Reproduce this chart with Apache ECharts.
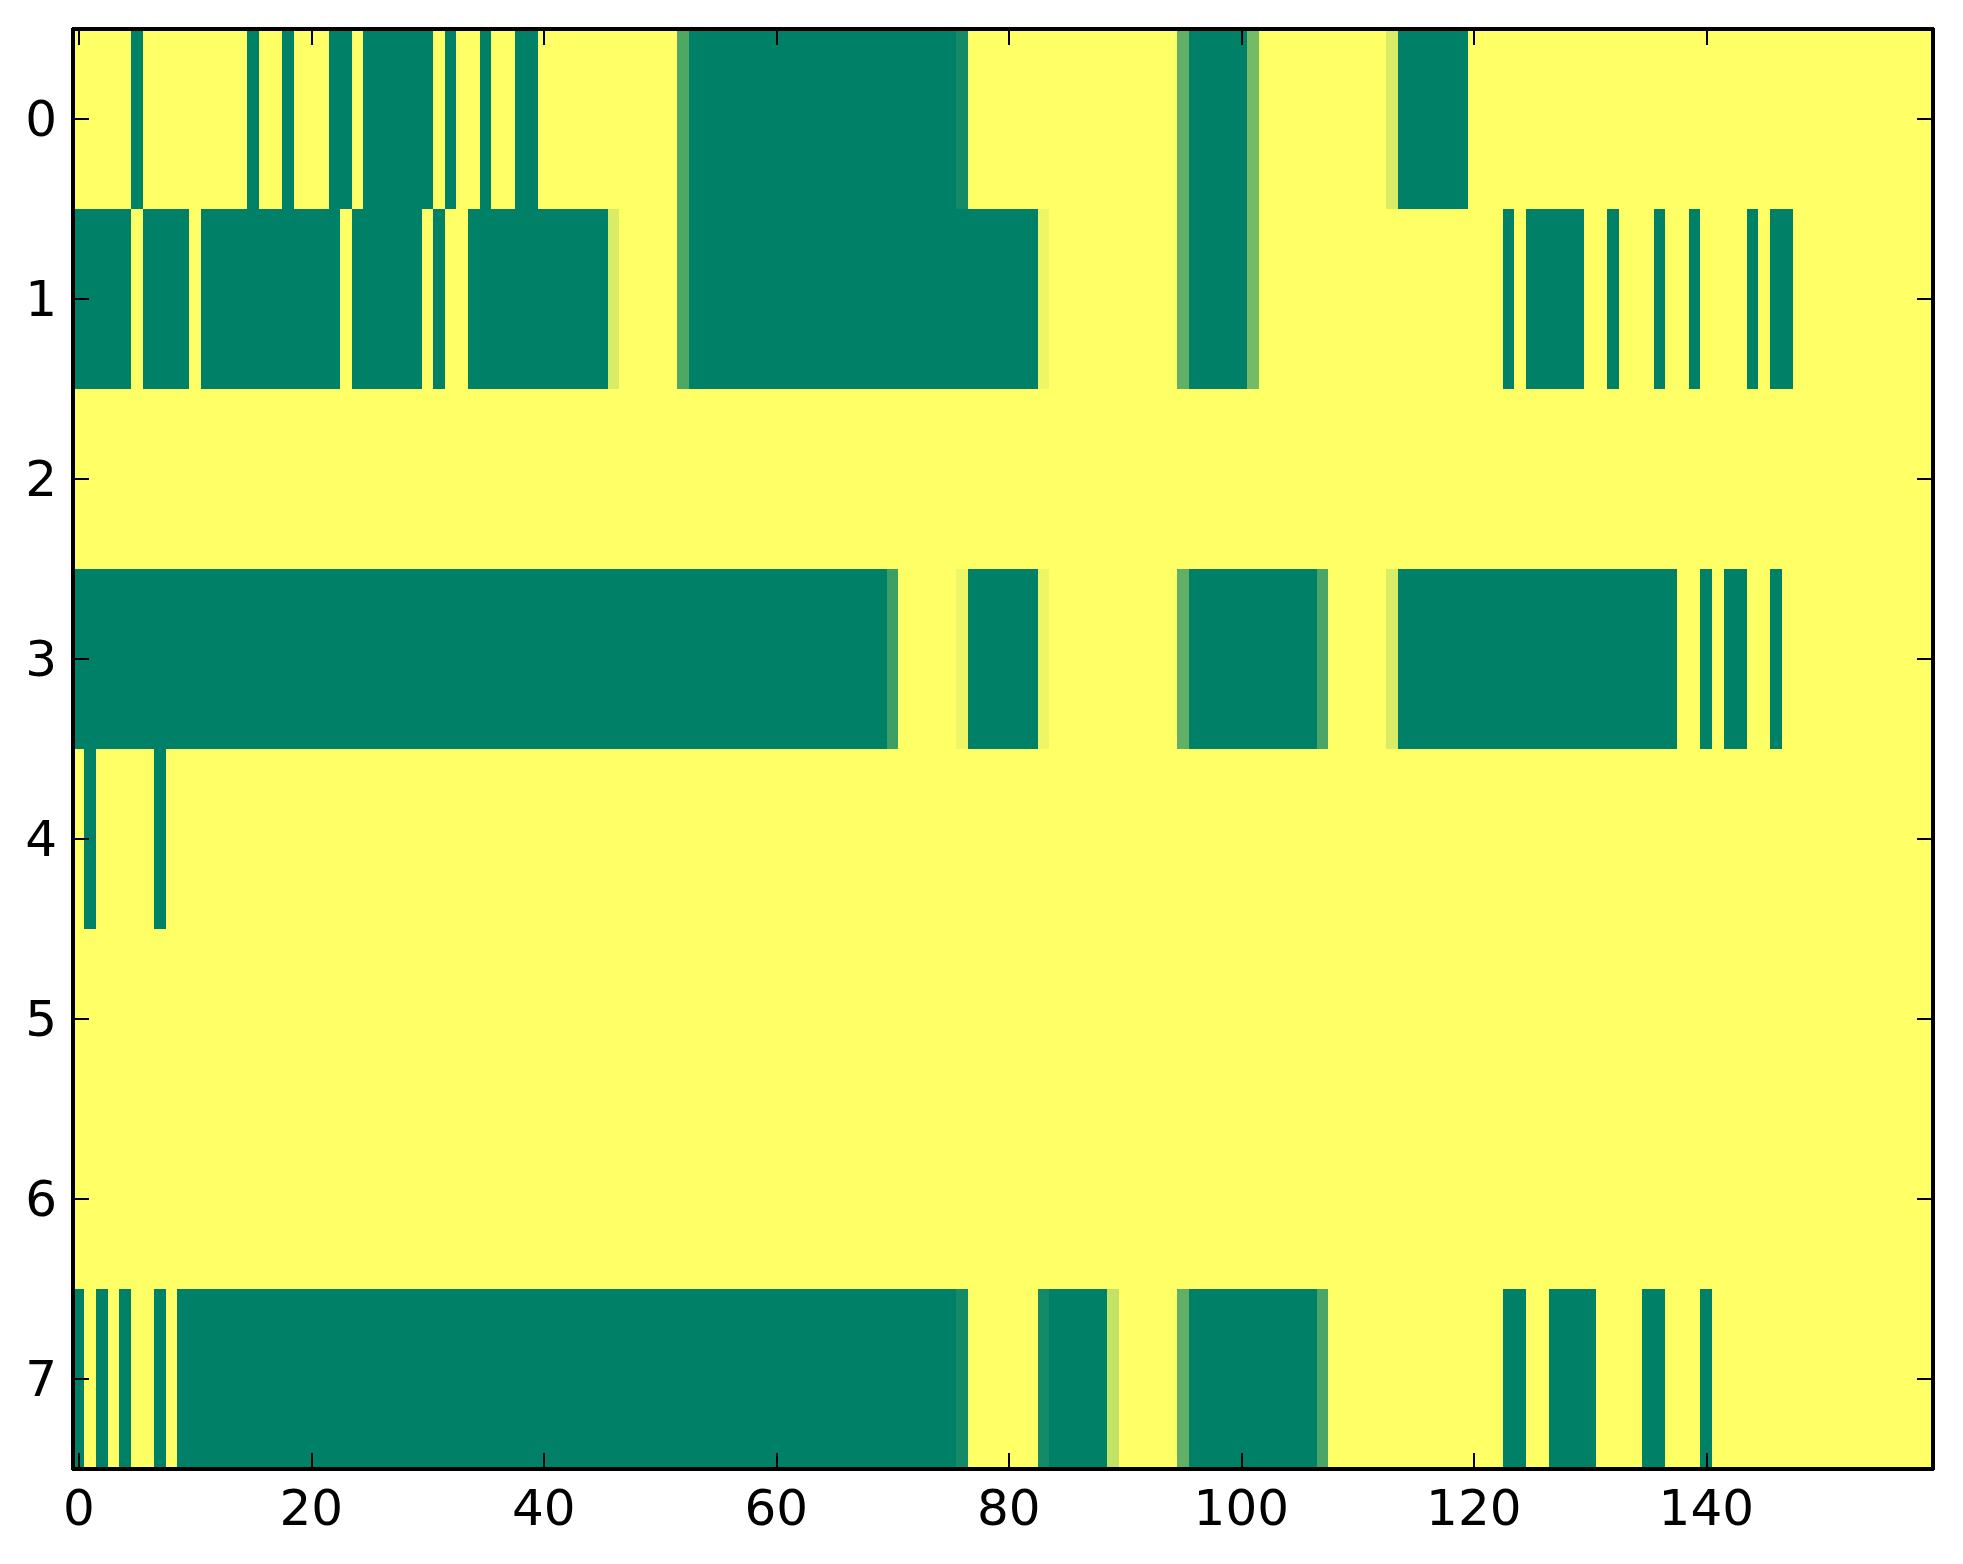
<!DOCTYPE html>
<html>
<head>
<meta charset="utf-8">
<script src="https://cdn.jsdelivr.net/npm/echarts@6/dist/echarts.min.js"></script>
<style>
  html, body { margin: 0; padding: 0; background: #ffffff; }
  #chart { width: 1963px; height: 1564px; }
  #chart svg path { shape-rendering: crispEdges; }
</style>
</head>
<body>
<div id="chart"></div>
<script>
// Row labels (y axis, top to bottom)
const yCategories = ['0', '1', '2', '3', '4', '5', '6', '7'];
// Column indices 0..159 (x axis categories)
const xCategories = Array.from({ length: 160 }, (_, i) => String(i));
// Tick labels shown on the x axis
const xTickLabels = ['0', '20', '40', '60', '80', '100', '120', '140'];

// Cell values per row (0 = green, 1 = yellow), 160 columns each
const row0 = [
  1,1,1,1,1,0,1,1,1,1, 1,1,1,1,1,0,1,1,0,1,
  1,1,0,0,1,0,0,0,0,0, 0,1,0,1,1,0,1,1,0,0,
  1,1,1,1,1,1,1,1,1,1, 1,1,0.31,0,0,0,0,0,0,0,
  0,0,0,0,0,0,0,0,0,0, 0,0,0,0,0,0,0.08,1,1,1,
  1,1,1,1,1,1,1,1,1,1, 1,1,1,1,1,0.38,0,0,0,0,
  0,0.46,1,1,1,1,1,1,1,1, 1,1,1,0.85,0,0,0,0,0,0,
  1,1,1,1,1,1,1,1,1,1, 1,1,1,1,1,1,1,1,1,1,
  1,1,1,1,1,1,1,1,1,1, 1,1,1,1,1,1,1,1,1,1
];
const row1 = [
  0,0,0,0,0,1,0,0,0,0, 1,0,0,0,0,0,0,0,0,0,
  0,0,0,1,0,0,0,0,0,0, 1,0,1,1,0,0,0,0,0,0,
  0,0,0,0,0,0,0.85,1,1,1, 1,1,0.31,0,0,0,0,0,0,0,
  0,0,0,0,0,0,0,0,0,0, 0,0,0,0,0,0,0,0,0,0,
  0,0,0,0.93,1,1,1,1,1,1, 1,1,1,1,1,0.38,0,0,0,0,
  0,0.46,1,1,1,1,1,1,1,1, 1,1,1,1,1,1,1,1,1,1,
  1,1,1,0,1,0,0,0,0,0, 1,1,0,1,1,1,0,1,1,0,
  1,1,1,1,0,1,0,0,1,1, 1,1,1,1,1,1,1,1,1,1
];
const row2 = [
  1,1,1,1,1,1,1,1,1,1, 1,1,1,1,1,1,1,1,1,1,
  1,1,1,1,1,1,1,1,1,1, 1,1,1,1,1,1,1,1,1,1,
  1,1,1,1,1,1,1,1,1,1, 1,1,1,1,1,1,1,1,1,1,
  1,1,1,1,1,1,1,1,1,1, 1,1,1,1,1,1,1,1,1,1,
  1,1,1,1,1,1,1,1,1,1, 1,1,1,1,1,1,1,1,1,1,
  1,1,1,1,1,1,1,1,1,1, 1,1,1,1,1,1,1,1,1,1,
  1,1,1,1,1,1,1,1,1,1, 1,1,1,1,1,1,1,1,1,1,
  1,1,1,1,1,1,1,1,1,1, 1,1,1,1,1,1,1,1,1,1
];
const row3 = [
  0,0,0,0,0,0,0,0,0,0, 0,0,0,0,0,0,0,0,0,0,
  0,0,0,0,0,0,0,0,0,0, 0,0,0,0,0,0,0,0,0,0,
  0,0,0,0,0,0,0,0,0,0, 0,0,0,0,0,0,0,0,0,0,
  0,0,0,0,0,0,0,0,0,0, 0.24,1,1,1,1,1,0.93,0,0,0,
  0,0,0,0.93,1,1,1,1,1,1, 1,1,1,1,1,0.38,0,0,0,0,
  0,0,0,0,0,0,0,0.29,1,1, 1,1,1,0.85,0,0,0,0,0,0,
  0,0,0,0,0,0,0,0,0,0, 0,0,0,0,0,0,0,0,1,1,
  0,1,0,0,1,1,0,1,1,1, 1,1,1,1,1,1,1,1,1,1
];
const row4 = [
  1,0,1,1,1,1,1,0,1,1, 1,1,1,1,1,1,1,1,1,1,
  1,1,1,1,1,1,1,1,1,1, 1,1,1,1,1,1,1,1,1,1,
  1,1,1,1,1,1,1,1,1,1, 1,1,1,1,1,1,1,1,1,1,
  1,1,1,1,1,1,1,1,1,1, 1,1,1,1,1,1,1,1,1,1,
  1,1,1,1,1,1,1,1,1,1, 1,1,1,1,1,1,1,1,1,1,
  1,1,1,1,1,1,1,1,1,1, 1,1,1,1,1,1,1,1,1,1,
  1,1,1,1,1,1,1,1,1,1, 1,1,1,1,1,1,1,1,1,1,
  1,1,1,1,1,1,1,1,1,1, 1,1,1,1,1,1,1,1,1,1
];
const row5 = [
  1,1,1,1,1,1,1,1,1,1, 1,1,1,1,1,1,1,1,1,1,
  1,1,1,1,1,1,1,1,1,1, 1,1,1,1,1,1,1,1,1,1,
  1,1,1,1,1,1,1,1,1,1, 1,1,1,1,1,1,1,1,1,1,
  1,1,1,1,1,1,1,1,1,1, 1,1,1,1,1,1,1,1,1,1,
  1,1,1,1,1,1,1,1,1,1, 1,1,1,1,1,1,1,1,1,1,
  1,1,1,1,1,1,1,1,1,1, 1,1,1,1,1,1,1,1,1,1,
  1,1,1,1,1,1,1,1,1,1, 1,1,1,1,1,1,1,1,1,1,
  1,1,1,1,1,1,1,1,1,1, 1,1,1,1,1,1,1,1,1,1
];
const row6 = [
  1,1,1,1,1,1,1,1,1,1, 1,1,1,1,1,1,1,1,1,1,
  1,1,1,1,1,1,1,1,1,1, 1,1,1,1,1,1,1,1,1,1,
  1,1,1,1,1,1,1,1,1,1, 1,1,1,1,1,1,1,1,1,1,
  1,1,1,1,1,1,1,1,1,1, 1,1,1,1,1,1,1,1,1,1,
  1,1,1,1,1,1,1,1,1,1, 1,1,1,1,1,1,1,1,1,1,
  1,1,1,1,1,1,1,1,1,1, 1,1,1,1,1,1,1,1,1,1,
  1,1,1,1,1,1,1,1,1,1, 1,1,1,1,1,1,1,1,1,1,
  1,1,1,1,1,1,1,1,1,1, 1,1,1,1,1,1,1,1,1,1
];
const row7 = [
  0,1,0,1,0,1,1,0,1,0, 0,0,0,0,0,0,0,0,0,0,
  0,0,0,0,0,0,0,0,0,0, 0,0,0,0,0,0,0,0,0,0,
  0,0,0,0,0,0,0,0,0,0, 0,0,0,0,0,0,0,0,0,0,
  0,0,0,0,0,0,0,0,0,0, 0,0,0,0,0,0,0.08,1,1,1,
  1,1,1,0.08,0,0,0,0,0,0.77, 1,1,1,1,1,0.38,0,0,0,0,
  0,0,0,0,0,0,0,0.29,1,1, 1,1,1,1,1,1,1,1,1,1,
  1,1,1,0,0,1,1,0,0,0, 0,1,1,1,1,0,0,1,1,1,
  0,1,1,1,1,1,1,1,1,1, 1,1,1,1,1,1,1,1,1,1
];
const rows = [row0, row1, row2, row3, row4, row5, row6, row7];

const cells = [];
rows.forEach((row, r) => row.forEach((v, c) => cells.push([c, r, v])));

const showTick = (idx) => xTickLabels.indexOf(String(idx)) >= 0;
const FONT = 'DejaVu Sans';

function axisCommon(extra) {
  return Object.assign({
    z: 100, zlevel: 2,
    axisLine: { show: true, onZero: false, lineStyle: { color: '#000', width: 3.5 } },
    splitLine: { show: false }, splitArea: { show: false }
  }, extra);
}

const chart = echarts.init(document.getElementById('chart'), null, { renderer: 'svg' });
chart.setOption({
  animation: false,
  backgroundColor: '#ffffff',
  grid: { left: 73, top: 29, width: 1860, height: 1440, containLabel: false },
  xAxis: [
    axisCommon({
      type: 'category', data: xCategories, position: 'bottom',
      axisTick: { show: true, inside: true, length: 16, alignWithLabel: true, interval: showTick, lineStyle: { color: '#000', width: 2 } },
      axisLabel: { interval: showTick, fontSize: 50, color: '#000', fontFamily: FONT, margin: 14 }
    }),
    axisCommon({
      type: 'category', data: xCategories, position: 'top',
      axisTick: { show: true, inside: true, length: 16, alignWithLabel: true, interval: showTick, lineStyle: { color: '#000', width: 2 } },
      axisLabel: { show: false }
    })
  ],
  yAxis: [
    axisCommon({
      type: 'category', data: yCategories, inverse: true, position: 'left',
      axisTick: { show: true, inside: true, length: 16, alignWithLabel: true, interval: 0, lineStyle: { color: '#000', width: 2 } },
      axisLabel: { interval: 0, fontSize: 50, color: '#000', fontFamily: FONT, margin: 16 }
    }),
    axisCommon({
      type: 'category', data: yCategories, inverse: true, position: 'right',
      axisTick: { show: true, inside: true, length: 16, alignWithLabel: true, interval: 0, lineStyle: { color: '#000', width: 2 } },
      axisLabel: { show: false }
    })
  ],
  visualMap: {
    show: false, min: 0, max: 1, seriesIndex: 0,
    inRange: { color: ['#008066', '#ffff66'] }
  },
  series: [{
    type: 'heatmap', xAxisIndex: 0, yAxisIndex: 0, z: -1, zlevel: 0,
    data: cells,
    itemStyle: { borderWidth: 0 },
    emphasis: { disabled: true },
    progressive: 0
  }]
});
</script>
</body>
</html>
